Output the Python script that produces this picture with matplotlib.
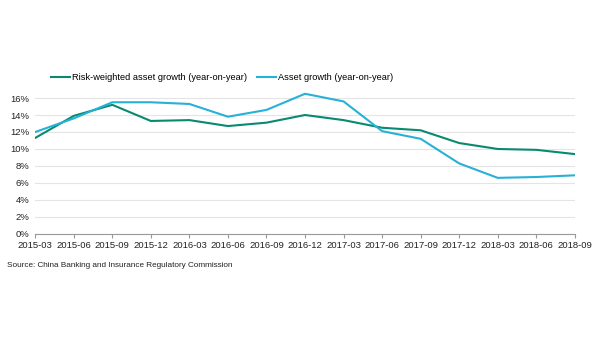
import matplotlib.pyplot as plt
from matplotlib.ticker import FuncFormatter

plt.rcParams['font.family'] = ['Liberation Sans', 'DejaVu Sans']

quarters = ['2015-03', '2015-06', '2015-09', '2015-12', '2016-03', '2016-06',
            '2016-09', '2016-12', '2017-03', '2017-06', '2017-09', '2017-12',
            '2018-03', '2018-06', '2018-09']
risk_weighted = [11.3, 13.9, 15.2, 13.3, 13.4, 12.7, 13.1, 14.0, 13.4, 12.5,
                 12.2, 10.7, 10.0, 9.9, 9.4]
asset_growth = [12.0, 13.6, 15.5, 15.5, 15.3, 13.8, 14.6, 16.5, 15.6, 12.1,
                11.2, 8.3, 6.6, 6.7, 6.9]

fig = plt.figure(figsize=(6.07, 3.61), dpi=100)
ax = fig.add_axes([0.058, 0.352, 0.889, 0.40])

x = list(range(len(quarters)))
ax.plot(x, risk_weighted, color='#078a6f', lw=1.5,
        label='Risk-weighted asset growth (year-on-year)')
ax.plot(x, asset_growth, color='#27b1d6', lw=1.5,
        label='Asset growth (year-on-year)')

ax.set_xlim(0, len(quarters) - 1)
ax.set_ylim(0, 17)
ax.set_yticks(range(0, 17, 2))
ax.yaxis.set_major_formatter(FuncFormatter(lambda v, p: f'{v:.0f}%'))
ax.set_xticks(x)
ax.set_xticklabels(quarters)
ax.tick_params(axis='both', labelsize=6.8, colors='#222222', pad=2)
ax.tick_params(axis='y', length=0, pad=4)
ax.tick_params(axis='x', length=3, color='#999999')
ax.grid(axis='y', color='#e4e4e4', lw=0.8)
ax.set_axisbelow(True)
for s in ['top', 'right', 'left']:
    ax.spines[s].set_visible(False)
ax.spines['bottom'].set_color('#999999')

fig.legend(loc='center left', bbox_to_anchor=(0.084, 0.785),
           bbox_transform=fig.transFigure, ncol=2, frameon=False,
           fontsize=6.7, handlelength=2.0, columnspacing=1.1,
           handletextpad=0.25, borderpad=0, borderaxespad=0)

fig.text(0.012, 0.265, 'Source: China Banking and Insurance Regulatory Commission',
         fontsize=5.9, color='#222222', va='center')

fig.savefig('out.png', dpi=100)
